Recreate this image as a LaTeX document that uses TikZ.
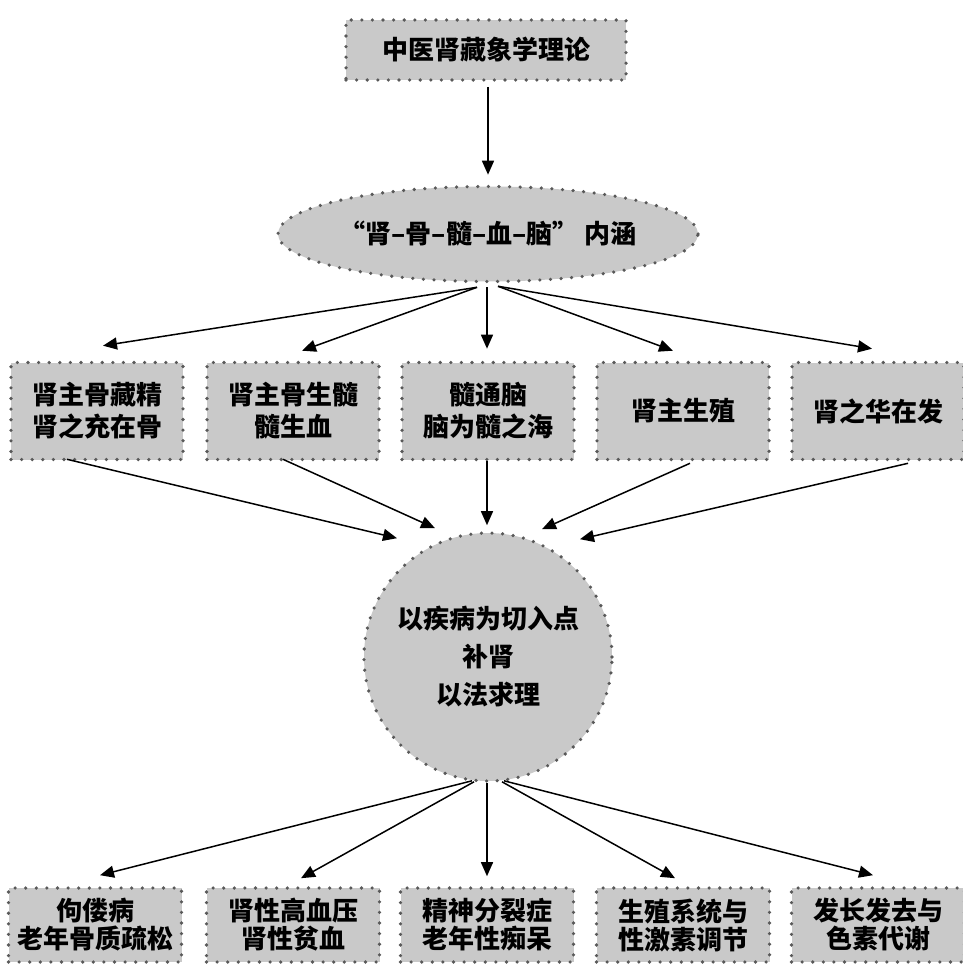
\documentclass[tikz,border=0pt]{standalone}
\usepackage{fontspec}
\newfontfamily\cjk{Noto Sans CJK SC}
\usetikzlibrary{shapes.geometric,arrows.meta}

\begin{document}
\begin{tikzpicture}[x=1pt,y=-1pt,
        dotbox/.style={draw=black!65, fill=black!21, line width=3.6pt, line cap=round,
            dash pattern=on 0pt off 10.6pt, align=center, inner sep=0pt,
            font=\cjk\bfseries\fontsize{26}{32}\selectfont},
        lowbox/.style={dotbox, minimum width=173pt, minimum height=74pt,
            font=\cjk\bfseries\fontsize{26}{28}\selectfont},
        midbox/.style={dotbox, minimum width=172pt, minimum height=97pt},
        arr/.style={-{Triangle[length=14pt,width=12pt]}, line width=1.5pt}]
        \useasboundingbox (0,0) rectangle (962,965);

        \node[dotbox, minimum width=280pt, minimum height=60pt] (top) at (486,50) {中医肾藏象学理论};
        \node[dotbox, ellipse, minimum width=402pt, minimum height=95pt] (ell) at (488,234) {“肾–骨–髓–血–脑” 内涵};

        \node[midbox] (m1) at (97,411) {肾主骨藏精\\肾之充在骨};
        \node[midbox] (m2) at (293,411) {肾主骨生髓\\髓生血};
        \node[midbox] (m3) at (488,411) {髓通脑\\脑为髓之海};
        \node[midbox] (m4) at (683,411) {肾主生殖};
        \node[midbox] (m5) at (878,411) {肾之华在发};

        \node[dotbox, circle, minimum size=248pt,
            font=\cjk\bfseries\fontsize{26}{38}\selectfont] (circ) at (488,657) {以疾病为切入点\\补肾\\以法求理};

        \node[lowbox] (b1) at (95,925) {佝偻病\\老年骨质疏松};
        \node[lowbox] (b2) at (293,925) {肾性高血压\\肾性贫血};
        \node[lowbox] (b3) at (487,925) {精神分裂症\\老年性痴呆};
        \node[lowbox] (b4) at (683,925) {生殖系统与\\性激素调节};
        \node[lowbox] (b5) at (878,925) {发长发去与\\色素代谢};

        \draw[arr] ([xshift=2pt,yshift=-5pt]top.south) -- ([yshift=10pt]ell.north);

        \draw[arr] ([xshift=-11pt,yshift=-4pt]ell.south) -- ([xshift=6pt,yshift=15pt]m1.north);
        \draw[arr] ([xshift=-11pt,yshift=-4pt]ell.south) -- ([xshift=9pt,yshift=10pt]m2.north);
        \draw[arr] ([xshift=-1pt,yshift=-4pt]ell.south) -- ([xshift=-1pt,yshift=12pt]m3.north);
        \draw[arr] ([xshift=10pt,yshift=-3pt]ell.south) -- ([xshift=-10pt,yshift=10pt]m4.north);
        \draw[arr] ([xshift=10pt,yshift=-3pt]ell.south) -- ([xshift=-6pt,yshift=12pt]m5.north);

        \draw[arr] ([xshift=-30pt,yshift=2pt]m1.south) -- ([xshift=-91pt,yshift=-7pt]circ.north);
        \draw[arr] ([xshift=-10pt,yshift=2pt]m2.south) -- ([xshift=-53pt,yshift=3pt]circ.north);
        \draw[arr] ([xshift=-1pt]m3.south) -- ([xshift=-1pt,yshift=6pt]circ.north);
        \draw[arr] ([xshift=7pt,yshift=-2pt]m4.south) -- ([xshift=54pt,yshift=2pt]circ.north);
        \draw[arr] ([xshift=30pt,yshift=-2pt]m5.south) -- ([xshift=92pt,yshift=-8pt]circ.north);

        \draw[arr] ([xshift=-16pt,yshift=2pt]circ.south) -- ([xshift=5pt,yshift=11pt]b1.north);
        \draw[arr] ([xshift=-14pt,yshift=1pt]circ.south) -- ([xshift=8pt,yshift=8pt]b2.north);
        \draw[arr] ([xshift=-1pt]circ.south) -- ([xshift=0pt,yshift=10pt]b3.north);
        \draw[arr] ([xshift=14pt,yshift=1pt]circ.south) -- ([xshift=-8pt,yshift=8pt]b4.north);
        \draw[arr] ([xshift=16pt,yshift=2pt]circ.south) -- ([xshift=-5pt,yshift=11pt]b5.north);
    \end{tikzpicture}
\end{document}
